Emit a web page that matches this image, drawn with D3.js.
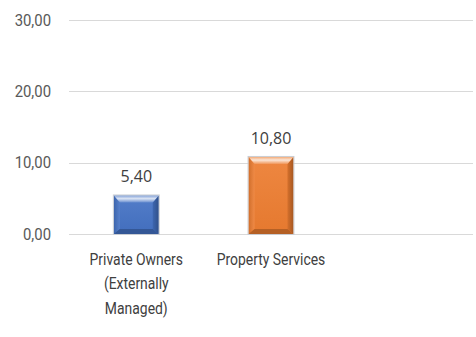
<!DOCTYPE html>
<html>
<head>
<meta charset="utf-8">
<script src="https://cdn.jsdelivr.net/npm/d3@7"></script>
<style>
  html, body { margin: 0; padding: 0; background: #ffffff; }
  svg { display: block; }
  .tick-label { font-family: Roboto, "Noto Sans", sans-serif; font-size: 16px; fill: #595959; }
  .cat-label { font-family: Roboto, "Noto Sans", sans-serif; font-size: 16px; fill: #404040; }
  .val-label { font-family: "Open Sans", "Noto Sans", sans-serif; font-size: 16px; fill: #404040; }
</style>
</head>
<body>
<svg id="chart" width="476" height="337"></svg>
<script>
// Category slots (the third slot is left empty)
const categories = ["Private Owners (Externally Managed)", "Property Services", ""];
const categoryLines = [["Private Owners", "(Externally", "Managed)"], ["Property Services"], []];
const values = [5.40, 10.80, null];
const barColors = ["#4472C4", "#ED7D31", null];
const yTicks = [0, 10, 20, 30];

const width = 476, height = 337;
const margin = { top: 20, right: 3, bottom: 103, left: 69 };
const narrow = 0.87; // horizontal squeeze for the condensed label face

const svg = d3.select("#chart");
const defs = svg.append("defs");

const x = d3.scaleBand()
  .domain(d3.range(categories.length))
  .range([margin.left, width - margin.right])
  .paddingInner(0.667)
  .paddingOuter(0.333);

const y = d3.scaleLinear()
  .domain([0, 30])
  .range([height - margin.bottom, margin.top]);

const fmt = v => d3.format(".2f")(v).replace(".", ",");

// Horizontal gridlines
svg.append("g")
  .selectAll("line")
  .data(yTicks)
  .join("line")
  .attr("x1", margin.left)
  .attr("x2", width - margin.right)
  .attr("y1", d => Math.round(y(d)) + 0.5)
  .attr("y2", d => Math.round(y(d)) + 0.5)
  .attr("stroke", "#d9d9d9")
  .attr("stroke-width", 1);

// Y axis labels (right-aligned, condensed)
const labelRight = 51;
svg.append("g")
  .selectAll("text")
  .data(yTicks)
  .join("text")
  .attr("class", "tick-label")
  .attr("text-anchor", "end")
  .attr("transform", d => `translate(${labelRight},${y(d)}) scale(0.93,1)`)
  .attr("dy", "0.36em")
  .text(fmt);

// Bevelled bars
const bTop = 7, bSide = 6, bBot = 5;
const barData = values.map((v, i) => ({ v, i, c: barColors[i] })).filter(d => d.v != null);

barData.forEach(d => {
  const base = d3.color(d.c);
  const tg = defs.append("linearGradient").attr("id", "top" + d.i).attr("x1", 0).attr("y1", 0).attr("x2", 0).attr("y2", 1);
  tg.append("stop").attr("offset", 0).attr("stop-color", d3.interpolateRgb(d.c, "#ffffff")(0.35));
  tg.append("stop").attr("offset", 0.45).attr("stop-color", d3.interpolateRgb(d.c, "#ffffff")(0.8));
  tg.append("stop").attr("offset", 1).attr("stop-color", d3.interpolateRgb(d.c, "#ffffff")(0.2));
  const fg = defs.append("linearGradient").attr("id", "face" + d.i).attr("x1", 0).attr("y1", 0).attr("x2", 0).attr("y2", 1);
  fg.append("stop").attr("offset", 0).attr("stop-color", d3.interpolateRgb(d.c, "#ffffff")(0.08));
  fg.append("stop").attr("offset", 1).attr("stop-color", base.darker(0.1));
  const rg = defs.append("linearGradient").attr("id", "right" + d.i).attr("x1", 0).attr("y1", 0).attr("x2", 1).attr("y2", 0);
  rg.append("stop").attr("offset", 0).attr("stop-color", base.darker(0.3));
  rg.append("stop").attr("offset", 1).attr("stop-color", base.darker(1.0));
  const lg = defs.append("linearGradient").attr("id", "left" + d.i).attr("x1", 0).attr("y1", 0).attr("x2", 1).attr("y2", 0);
  lg.append("stop").attr("offset", 0).attr("stop-color", base.darker(0.35));
  lg.append("stop").attr("offset", 1).attr("stop-color", d3.interpolateRgb(d.c, "#ffffff")(0.1));
});

const bars = svg.append("g").selectAll("g").data(barData).join("g");

bars.each(function(d) {
  const g = d3.select(this);
  const x0 = x(d.i), x1 = x(d.i) + x.bandwidth();
  const y0 = y(d.v), y1 = y(0);
  const base = d3.color(d.c);
  const poly = pts => "M" + pts.map(p => p.join(",")).join("L") + "Z";

  // face
  g.append("rect").attr("x", x0).attr("y", y0).attr("width", x1 - x0).attr("height", y1 - y0).attr("fill", `url(#face${d.i})`);
  // left bevel
  g.append("path").attr("d", poly([[x0, y0], [x0 + bSide, y0 + bTop], [x0 + bSide, y1 - bBot], [x0, y1]])).attr("fill", `url(#left${d.i})`);
  // right bevel
  g.append("path").attr("d", poly([[x1, y0], [x1, y1], [x1 - bSide, y1 - bBot], [x1 - bSide, y0 + bTop]])).attr("fill", `url(#right${d.i})`);
  // bottom bevel
  g.append("path").attr("d", poly([[x0, y1], [x1, y1], [x1 - bSide, y1 - bBot], [x0 + bSide, y1 - bBot]])).attr("fill", base.darker(0.75));
  // top bevel
  g.append("path").attr("d", poly([[x0, y0], [x1, y0], [x1 - bSide, y0 + bTop], [x0 + bSide, y0 + bTop]])).attr("fill", `url(#top${d.i})`);
  // thin light outline
  g.append("rect").attr("x", x0 - 0.5).attr("y", y0 - 0.5).attr("width", x1 - x0 + 1).attr("height", y1 - y0 + 1)
    .attr("fill", "none").attr("stroke", "#c9ccd2").attr("stroke-width", 1);
});

// Value labels
svg.append("g").selectAll("text").data(barData).join("text")
  .attr("class", "val-label")
  .attr("x", d => x(d.i) + x.bandwidth() / 2)
  .attr("y", d => y(d.v) - 13)
  .attr("text-anchor", "middle")
  .text(d => fmt(d.v));

// Category labels (wrapped, condensed)
const cg = svg.append("g").selectAll("text").data(categoryLines).join("text")
  .attr("class", "cat-label")
  .attr("transform", (d, i) => `translate(${x(i) + x.bandwidth() / 2},${y(0) + 31}) scale(${narrow},1)`)
  .attr("text-anchor", "middle");
cg.selectAll("tspan").data(d => d).join("tspan")
  .attr("x", 0)
  .attr("dy", (d, j) => j === 0 ? 0 : 24.5)
  .text(d => d);
</script>
</body>
</html>
